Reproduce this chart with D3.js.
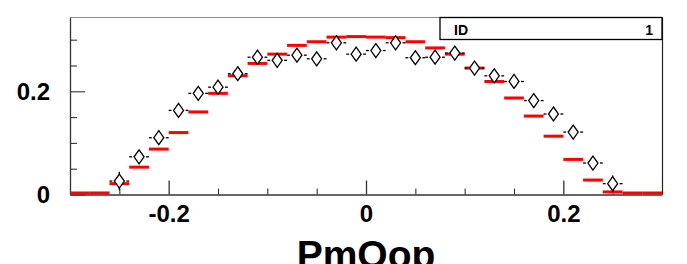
<!DOCTYPE html>
<html>
<head>
<meta charset="utf-8">
<script src="https://cdn.jsdelivr.net/npm/d3@7"></script>
<style>
  html, body { margin: 0; padding: 0; background: #fff; }
  svg { display: block; }
  text { font-family: "Liberation Sans", Arial, sans-serif; font-weight: bold; fill: #000; }
</style>
</head>
<body>
<script>
// ---- data ----
const binCenters = [-0.29, -0.27, -0.25, -0.23, -0.21, -0.19, -0.17, -0.15, -0.13, -0.11,
                    -0.09, -0.07, -0.05, -0.03, -0.01, 0.01, 0.03, 0.05, 0.07, 0.09,
                    0.11, 0.13, 0.15, 0.17, 0.19, 0.21, 0.23, 0.25, 0.27, 0.29];
const binWidth = 0.02;
const redValues = [0.001, 0.003, 0.021, 0.053, 0.088, 0.120, 0.160, 0.196, 0.230, 0.254,
                   0.272, 0.289, 0.296, 0.305, 0.306, 0.305, 0.304, 0.296, 0.284, 0.272,
                   0.245, 0.219, 0.187, 0.152, 0.113, 0.068, 0.028, 0.005, 0.001, 0.0];
const diamondValues = [null, null, 0.026, 0.073, 0.110, 0.163, 0.196, 0.208, 0.234, 0.266,
                       0.260, 0.270, 0.263, 0.294, 0.272, 0.279, 0.294, 0.265, 0.266, 0.274,
                       0.245, 0.230, 0.219, 0.182, 0.156, 0.121, 0.061, 0.021, null, null];
const diamondErrors = [0, 0, 0.018, 0.010, 0.010, 0.010, 0.010, 0.010, 0.010, 0.010,
                       0.010, 0.010, 0.010, 0.010, 0.010, 0.010, 0.010, 0.010, 0.010, 0.010,
                       0.010, 0.010, 0.010, 0.010, 0.010, 0.010, 0.012, 0.016, 0, 0];
const xDomain = [-0.3, 0.3];
const yDomain = [0, 0.343];
const xMajorTicks = [-0.2, 0, 0.2];
const xTickLabels = ["-0.2", "0", "0.2"];
const xMinorTicks = [-0.25, -0.15, -0.1, -0.05, 0.05, 0.1, 0.15, 0.25];
const yMajorTicks = [0, 0.2];
const yTickLabels = ["0", "0.2"];
const yMinorTicks = [0.05, 0.1, 0.15, 0.25, 0.3];
const xTitle = "PmOop";
const statName = "ID";
const statValue = "1";

// ---- layout ----
const W = 687, H = 264;
const frame = { left: 70, right: 662, top: 17.5, bottom: 194.5 };

const svg = d3.select("body").append("svg").attr("width", W).attr("height", H);

const x = d3.scaleLinear().domain(xDomain).range([frame.left, frame.right]);
const y = d3.scaleLinear().domain(yDomain).range([frame.bottom, frame.top]);

// frame top/right
svg.append("line").attr("x1", frame.left).attr("x2", frame.right)
  .attr("y1", frame.top).attr("y2", frame.top)
  .attr("stroke", "#8a8a8a").attr("stroke-width", 1);
svg.append("line").attr("x1", frame.right + 0.5).attr("x2", frame.right + 0.5)
  .attr("y1", frame.top).attr("y2", frame.bottom)
  .attr("stroke", "#222").attr("stroke-width", 1.2);

// x axis
const xAxisMajor = d3.axisBottom(x).tickValues(xMajorTicks).tickSizeInner(-14).tickSizeOuter(0)
  .tickFormat((d, i) => xTickLabels[i]).tickPadding(0);
const gx = svg.append("g").attr("transform", `translate(0,${frame.bottom})`).call(xAxisMajor);
gx.select(".domain").attr("stroke", "#333").attr("stroke-width", 1.3);
gx.selectAll(".tick line").attr("stroke", "#333").attr("stroke-width", 1.3);
gx.selectAll(".tick text").attr("font-size", 24).attr("dy", null).attr("y", 27)
  .attr("font-family", "Liberation Sans, Arial, sans-serif").attr("font-weight", "bold").attr("fill", "#000");
const xAxisMinor = d3.axisBottom(x).tickValues(xMinorTicks).tickSizeInner(-6).tickSizeOuter(0).tickFormat("");
const gx2 = svg.append("g").attr("transform", `translate(0,${frame.bottom})`).call(xAxisMinor);
gx2.select(".domain").remove();
gx2.selectAll(".tick line").attr("stroke", "#333").attr("stroke-width", 1.1);

// y axis
const yAxisMajor = d3.axisLeft(y).tickValues(yMajorTicks).tickSizeInner(-15).tickSizeOuter(0)
  .tickFormat((d, i) => yTickLabels[i]).tickPadding(0);
const gy = svg.append("g").attr("transform", `translate(${frame.left},0)`).call(yAxisMajor);
gy.select(".domain").attr("stroke", "#333").attr("stroke-width", 1.3);
gy.selectAll(".tick line").attr("stroke", "#333").attr("stroke-width", 1.1);
gy.selectAll(".tick text").attr("font-size", 24).attr("x", -20).attr("dy", "0.35em")
  .attr("font-family", "Liberation Sans, Arial, sans-serif").attr("font-weight", "bold").attr("fill", "#000");
const yAxisMinor = d3.axisLeft(y).tickValues(yMinorTicks).tickSizeInner(-7).tickSizeOuter(0).tickFormat("");
const gy2 = svg.append("g").attr("transform", `translate(${frame.left},0)`).call(yAxisMinor);
gy2.select(".domain").remove();
gy2.selectAll(".tick line").attr("stroke", "#333").attr("stroke-width", 1.1);

// red histogram bars
svg.append("g").selectAll("line.red").data(binCenters.map((c, i) => ({ c, v: redValues[i] })))
  .join("line")
  .attr("x1", d => x(d.c - binWidth / 2)).attr("x2", d => x(d.c + binWidth / 2))
  .attr("y1", d => Math.min(y(d.v), frame.bottom - 1.5)).attr("y2", d => Math.min(y(d.v), frame.bottom - 1.5))
  .attr("stroke", "#ff0000").attr("stroke-width", 3);

// diamonds with error bars
const pts = binCenters.map((c, i) => ({ c, v: diamondValues[i], e: diamondErrors[i] })).filter(d => d.v !== null);
const hw = 5, hh = 7, gap = 7;
const gd = svg.append("g").attr("stroke", "#000").attr("stroke-width", 1.3).attr("fill", "none");
pts.forEach(d => {
  const cx = x(d.c), cy = y(d.v);
  const xl = x(d.c - binWidth / 2), xr = x(d.c + binWidth / 2);
  gd.append("line").attr("x1", xl).attr("x2", cx - gap).attr("y1", cy).attr("y2", cy);
  gd.append("line").attr("x1", cx + gap).attr("x2", xr).attr("y1", cy).attr("y2", cy);
  const top = y(d.v + d.e), bot = Math.min(y(d.v - d.e), frame.bottom);
  if (cy - top > hh) gd.append("line").attr("x1", cx).attr("x2", cx).attr("y1", top).attr("y2", cy - hh);
  if (bot - cy > hh) gd.append("line").attr("x1", cx).attr("x2", cx).attr("y1", cy + hh).attr("y2", bot);
  gd.append("path").attr("d", `M${cx},${cy - hh}L${cx + hw},${cy}L${cx},${cy + hh}L${cx - hw},${cy}Z`)
    .attr("fill", "#fff");
});

// stat box
svg.append("rect").attr("x", 440).attr("y", frame.top).attr("width", frame.right - 440).attr("height", 22)
  .attr("fill", "#fff").attr("stroke", "#000").attr("stroke-width", 1.3);
svg.append("text").attr("x", 454).attr("y", 35).attr("font-size", 14).text(statName);
svg.append("text").attr("x", 653).attr("y", 35).attr("font-size", 14).attr("text-anchor", "end").text(statValue);

// x title
svg.append("text").attr("x", x(0)).attr("y", 268).attr("font-size", 39).attr("text-anchor", "middle").text(xTitle);
</script>
</body>
</html>
